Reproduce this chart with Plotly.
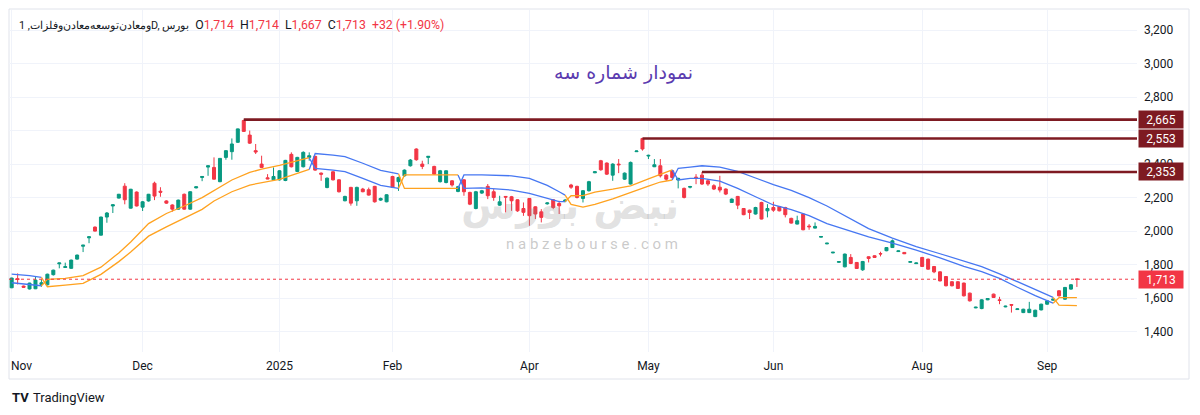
import plotly.graph_objects as go

# ---------------- data ----------------
opens = [1662,1716,1672,1655,1656,1682,1680,1740,1805,1783,1778,1833,1910,1960,2024,1976,2084,2150,2197,2268,
         2137,2233,2143,2180,2286,2238,2180,2156,2131,2220,2131,2258,2320,2382,2380,2295,2440,2474,2530,2660,
         2573,2480,2400,2318,2306,2306,2302,2458,2356,2384,2440,2446,2346,2260,2354,2306,2181,2261,2181,2251,
         2247,2267,2185,2175,2326,2295,2330,2390,2490,2400,2440,2386,2295,2290,2300,2237,2306,2231,2135,2227,
         2267,2235,2155,2207,2205,2187,2135,2195,2145,2115,2163,2187,2165,2180,2275,2267,2195,2241,2348,2420,
         2406,2334,2400,2310,2281,2474,2553,2448,2384,2390,2334,2360,2305,2255,2262,2322,2334,2300,2271,2262,
         2251,2171,2207,2135,2125,2102,2171,2121,2141,2147,2141,2076,2042,2102,2030,2018,1964,1924,1870,1814,
         1787,1843,1813,1769,1847,1853,1866,1883,1902,1878,1873,1814,1806,1843,1833,1789,1757,1729,1698,1698,
         1690,1630,1542,1538,1590,1624,1590,1548,1562,1532,1514,1514,1490,1530,1564,1588,1644,1594,1654,1714]
highs = [1722,1748,1675,1692,1730,1712,1746,1770,1812,1812,1830,1860,1918,1968,2028,2086,2114,2160,2222,2286,
         2252,2237,2180,2222,2295,2262,2184,2160,2188,2224,2238,2266,2328,2392,2440,2436,2482,2553,2612,2665,
         2600,2520,2450,2340,2380,2364,2425,2470,2443,2476,2470,2450,2350,2320,2358,2310,2211,2264,2265,2258,
         2260,2270,2200,2220,2330,2325,2368,2430,2494,2420,2448,2390,2365,2362,2305,2270,2310,2235,2240,2246,
         2281,2251,2211,2209,2210,2190,2171,2197,2148,2131,2172,2191,2181,2192,2282,2271,2245,2300,2357,2425,
         2410,2405,2430,2350,2415,2480,2553,2456,2430,2430,2340,2365,2318,2260,2270,2340,2353,2310,2280,2330,
         2255,2195,2210,2138,2128,2145,2175,2161,2175,2150,2145,2080,2092,2105,2042,2052,1970,1930,1876,1820,
         1866,1863,1816,1822,1849,1856,1877,1905,1950,1884,1875,1820,1812,1846,1836,1792,1760,1732,1702,1702,
         1693,1633,1549,1594,1601,1627,1608,1555,1564,1540,1537,1578,1531,1567,1587,1598,1648,1667,1684,1714]
lows = [1660,1682,1662,1652,1654,1668,1676,1735,1778,1781,1775,1830,1875,1928,1998,1974,2050,2108,2195,2160,
        2135,2147,2120,2176,2185,2205,2163,2116,2128,2128,2128,2255,2298,2330,2308,2292,2426,2426,2526,2592,
        2520,2460,2378,2310,2305,2302,2298,2380,2352,2380,2420,2360,2300,2256,2302,2230,2178,2152,2151,2232,
        2212,2170,2180,2172,2258,2240,2325,2385,2420,2370,2400,2335,2290,2285,2265,2232,2211,2155,2130,2222,
        2191,2181,2151,2112,2121,2115,2091,2032,2072,2052,2158,2131,2102,2172,2252,2195,2171,2236,2346,2360,
        2335,2300,2346,2305,2278,2472,2480,2430,2382,2320,2300,2310,2255,2195,2255,2280,2275,2270,2245,2231,
        2215,2168,2131,2095,2072,2099,2070,2082,2115,2118,2082,2045,2040,2005,2008,2016,1962,1922,1868,1812,
        1784,1803,1774,1763,1813,1840,1849,1880,1900,1876,1863,1812,1804,1786,1770,1749,1700,1670,1670,1655,
        1610,1580,1540,1534,1588,1601,1564,1546,1514,1530,1511,1511,1487,1527,1561,1584,1610,1590,1650,1667]
closes = [1720,1712,1665,1690,1708,1692,1743,1767,1810,1788,1827,1857,1916,1966,2000,2084,2108,2157,2220,2187,
          2250,2150,2175,2220,2209,2232,2167,2131,2185,2131,2235,2264,2326,2390,2310,2434,2480,2520,2610,2595,
          2525,2472,2380,2312,2326,2360,2422,2384,2440,2470,2450,2364,2340,2316,2306,2235,2207,2167,2261,2235,
          2215,2175,2195,2217,2261,2320,2364,2424,2426,2386,2446,2340,2360,2360,2275,2265,2235,2161,2235,2241,
          2211,2201,2175,2203,2181,2121,2112,2092,2102,2082,2168,2141,2151,2184,2262,2201,2241,2295,2354,2366,
          2340,2400,2396,2346,2410,2478,2490,2452,2396,2330,2310,2320,2315,2201,2266,2318,2281,2281,2251,2245,
          2221,2191,2155,2098,2111,2141,2072,2135,2125,2121,2098,2048,2062,2008,2026,2028,1968,1928,1874,1818,
          1863,1807,1777,1819,1837,1843,1864,1902,1942,1882,1865,1818,1810,1789,1773,1757,1703,1674,1674,1658,
          1614,1584,1546,1590,1598,1604,1586,1552,1558,1536,1534,1534,1528,1564,1584,1594,1614,1664,1680,1713]

# channel indicator (two moving averages) sampled at candle indices
band_idx  = [0, 3, 5,
             6, 9, 12, 15, 18, 20, 23, 26, 29, 32, 34, 37, 40, 42, 45, 48, 50,
             51, 54, 56, 59, 62, 65,
             66, 70, 75,
             76, 79, 84, 87, 90, 92, 93,
             94, 96, 98, 101, 104, 107, 109, 111,
             112, 114, 116, 119, 122, 125, 128, 131, 134, 137, 140, 144, 148, 152, 156, 160, 163, 166, 169, 172, 175,
             176, 179]
band_high = [1744, 1735, 1724,
             1712, 1718, 1735, 1785, 1870, 1935, 2045, 2105, 2150, 2200, 2240, 2305, 2350, 2370, 2392, 2420, 2438,
             2463, 2454, 2445, 2405, 2363, 2342,
             2335, 2335, 2335,
             2335, 2335, 2330, 2315, 2273, 2235, 2215,
             2211, 2212, 2233, 2250, 2270, 2312, 2340, 2365,
             2375, 2382, 2390, 2382, 2357, 2317, 2277, 2243, 2200, 2150, 2090, 2015, 1958, 1908, 1865, 1822, 1788, 1745, 1697, 1650, 1605,
             1603, 1603]
band_low  = [1692, 1683, 1674,
             1668, 1678, 1688, 1742, 1818, 1875, 1970, 2025, 2080, 2130, 2180, 2235, 2275, 2290, 2309, 2345, 2368,
             2374, 2364, 2355, 2315, 2273, 2255,
             2255, 2255, 2255,
             2255, 2258, 2245, 2225, 2195, 2176, 2176,
             2160, 2143, 2160, 2192, 2232, 2268, 2293, 2305,
             2305, 2315, 2315, 2298, 2255, 2205, 2156, 2128, 2092, 2045, 2010, 1965, 1928, 1887, 1840, 1790, 1758, 1718, 1665, 1615, 1570,
             1558, 1555]
trend_start = [0, 6, 51, 66, 76, 94, 112, 176]
trend_up    = [False, True, False, True, False, True, False, True]

# horizontal resistance levels: (start candle index, price)
level_start = [39, 106, 116]
level_price = [2665, 2553, 2353]

tick_idx = [0, 22, 45, 64, 87, 107, 128, 153, 174]
tick_txt = ["Nov", "Dec", "2025", "Feb", "Apr", "May", "Jun", "Aug", "Sep"]
y_ticks = [1400, 1600, 1800, 2000, 2200, 2400, 2600, 2800, 3000, 3200]
y_hidden = [2600]   # label fully covered by the level boxes in the reference

symbol_text = "ومعادن\u200cتوسعه\u200cمعادن\u200cوفلزات, 1D, بورس"
title_text = "نمودار شماره سه"
change_text = "+32 (+1.90%)"
watermark_fa = "نبض بورس"
watermark_en = "nabzebourse.com"

# ---------------- figure ----------------
GREEN = "#089981"
RED = "#F23645"
ORANGE = "#FFA21F"
BLUE = "#4677F2"
LEVEL = "#7E1A22"
TXT = "#131722"
GRID = "#f0f3fa"

n = len(closes)
idx = list(range(n))
X_RANGE = [-0.45, 189.1]
Y_RANGE = [1278.8, 3319.3]

fig = go.Figure()

fig.add_trace(go.Candlestick(
    x=idx, open=opens, high=highs, low=lows, close=closes,
    increasing=dict(line=dict(color=GREEN, width=1), fillcolor=GREEN),
    decreasing=dict(line=dict(color=RED, width=1), fillcolor=RED),
    whiskerwidth=0, showlegend=False, hoverinfo="skip"))

# channel segments (lines swap at each trend change, forming an X)
prev = None
for k, s in enumerate(trend_start):
    e = trend_start[k + 1] - 1 if k + 1 < len(trend_start) else n - 1
    pts = [j for j, b in enumerate(band_idx) if s <= b <= e]
    xs = [band_idx[j] for j in pts]
    hs = [band_high[j] for j in pts]
    ls = [band_low[j] for j in pts]
    color = ORANGE if trend_up[k] else BLUE
    if prev is not None:
        px0, ph, pl = prev
        top_x, top_y = [px0] + xs, [pl] + hs
        bot_x, bot_y = [px0] + xs, [ph] + ls
    else:
        top_x, top_y, bot_x, bot_y = xs, hs, xs, ls
    for lx, ly in ((top_x, top_y), (bot_x, bot_y)):
        fig.add_trace(go.Scatter(x=lx, y=ly, mode="lines", line=dict(color=color, width=1.3),
                                 showlegend=False, hoverinfo="skip"))
    prev = (xs[-1], hs[-1], ls[-1])

# last price dotted line
fig.add_trace(go.Scatter(x=X_RANGE, y=[closes[-1]] * 2, mode="lines",
                         line=dict(color=RED, width=1, dash="dot"), showlegend=False, hoverinfo="skip"))

# resistance levels
for s, p in zip(level_start, level_price):
    fig.add_trace(go.Scatter(x=[s, X_RANGE[1]], y=[p, p], mode="lines",
                             line=dict(color=LEVEL, width=2.6), showlegend=False, hoverinfo="skip"))

W, H = 1192, 407          # page body adds an 8px margin
L, R, T, B = 1, 63, 2, 63
PW, PH = W - L - R, H - T - B


def px(xr):   # reference-screenshot x pixel -> paper
    return (xr - 8 - L) / PW


def py(yr):   # reference-screenshot y pixel -> paper
    return (H - B - (yr - 8)) / PH


annotations = []
for p in level_price:
    annotations.append(dict(xref="paper", yref="y", x=1, y=p, xanchor="left", yanchor="middle",
                            xshift=1, text=f"{p:,}", showarrow=False, width=42, height=15,
                            bgcolor=LEVEL, font=dict(color="white", size=12, family="Roboto")))
annotations.append(dict(xref="paper", yref="y", x=1, y=closes[-1], xanchor="left", yanchor="middle",
                        xshift=1, text=f"{closes[-1]:,}", showarrow=False, width=42, height=15,
                        bgcolor=RED, font=dict(color="white", size=12, family="Roboto")))

nb = "\u00a0"
hdr = (f"<span style='font-size:10.8px'>{symbol_text}</span>{nb}{nb}"
       f"O<span style='color:{RED}'>{opens[-1]:,}</span>{nb}{nb}"
       f"H<span style='color:{RED}'>{highs[-1]:,}</span>{nb}{nb}"
       f"L<span style='color:{RED}'>{lows[-1]:,}</span>{nb}{nb}"
       f"C<span style='color:{RED}'>{closes[-1]:,}</span>{nb}{nb}"
       f"<span style='color:{RED}'>{change_text}</span>")
annotations.append(dict(xref="paper", yref="paper", x=px(17), y=py(25),
                        xanchor="left", yanchor="middle", text=hdr, showarrow=False,
                        font=dict(color=TXT, size=12.3, family="Roboto")))

annotations.append(dict(xref="paper", yref="paper", x=px(623), y=py(72),
                        xanchor="center", yanchor="middle", text=title_text, showarrow=False,
                        font=dict(color="#5B3CB0", size=19, family="DejaVu Sans")))

annotations.append(dict(xref="paper", yref="paper", x=px(570), y=py(205),
                        xanchor="center", yanchor="middle", text=f"<b>{watermark_fa}</b>", showarrow=False,
                        font=dict(color="rgba(140,140,140,0.26)", size=40, family="DejaVu Sans")))
annotations.append(dict(xref="paper", yref="paper", x=px(592), y=py(244),
                        xanchor="center", yanchor="middle", text=" ".join(watermark_en),
                        showarrow=False,
                        font=dict(color="rgba(150,150,150,0.5)", size=15, family="Roboto")))

# first month label: keep it fully inside the page (the tick sits on the left edge)
annotations.append(dict(xref="paper", yref="paper", x=px(9), y=py(366),
                        xanchor="left", yanchor="middle", text=tick_txt[0], showarrow=False,
                        font=dict(color=TXT, size=12, family="Roboto")))

annotations.append(dict(xref="paper", yref="paper", x=px(10), y=py(397),
                        xanchor="left", yanchor="middle", text="<b>TV</b>", showarrow=False,
                        font=dict(color=TXT, size=13, family="Roboto")))
annotations.append(dict(xref="paper", yref="paper", x=px(31), y=py(397),
                        xanchor="left", yanchor="middle", text="TradingView", showarrow=False,
                        font=dict(color=TXT, size=13, family="Roboto")))

shapes = [dict(type="rect", xref="paper", yref="paper", x0=px(9), x1=px(1189),
               y0=py(379), y1=py(9), line=dict(color="#e0e3eb", width=1),
               fillcolor="rgba(0,0,0,0)", layer="below")]

fig.update_layout(
    width=W, height=H,
    margin=dict(l=L, r=R, t=T, b=B, autoexpand=False),
    paper_bgcolor="white", plot_bgcolor="white",
    boxgap=0.28,
    showlegend=False,
    annotations=annotations, shapes=shapes,
    font=dict(family="Roboto", color=TXT, size=12),
    xaxis=dict(range=X_RANGE, tickmode="array", tickvals=tick_idx,
               ticktext=[""] + tick_txt[1:],
               showgrid=True, gridcolor=GRID, gridwidth=1, zeroline=False, showline=False,
               ticks="", ticklabelstandoff=5, rangeslider=dict(visible=False), automargin=False,
               tickfont=dict(size=12, color=TXT)),
    yaxis=dict(range=Y_RANGE, side="right", tickmode="array", tickvals=y_ticks,
               ticktext=["" if v in y_hidden else f"{v:,}" for v in y_ticks],
               showgrid=True, gridcolor=GRID, gridwidth=1,
               zeroline=False, showline=False, ticks="", ticklabelstandoff=6, automargin=False,
               tickfont=dict(size=12, color=TXT)),
)

fig.write_html("out.html")
